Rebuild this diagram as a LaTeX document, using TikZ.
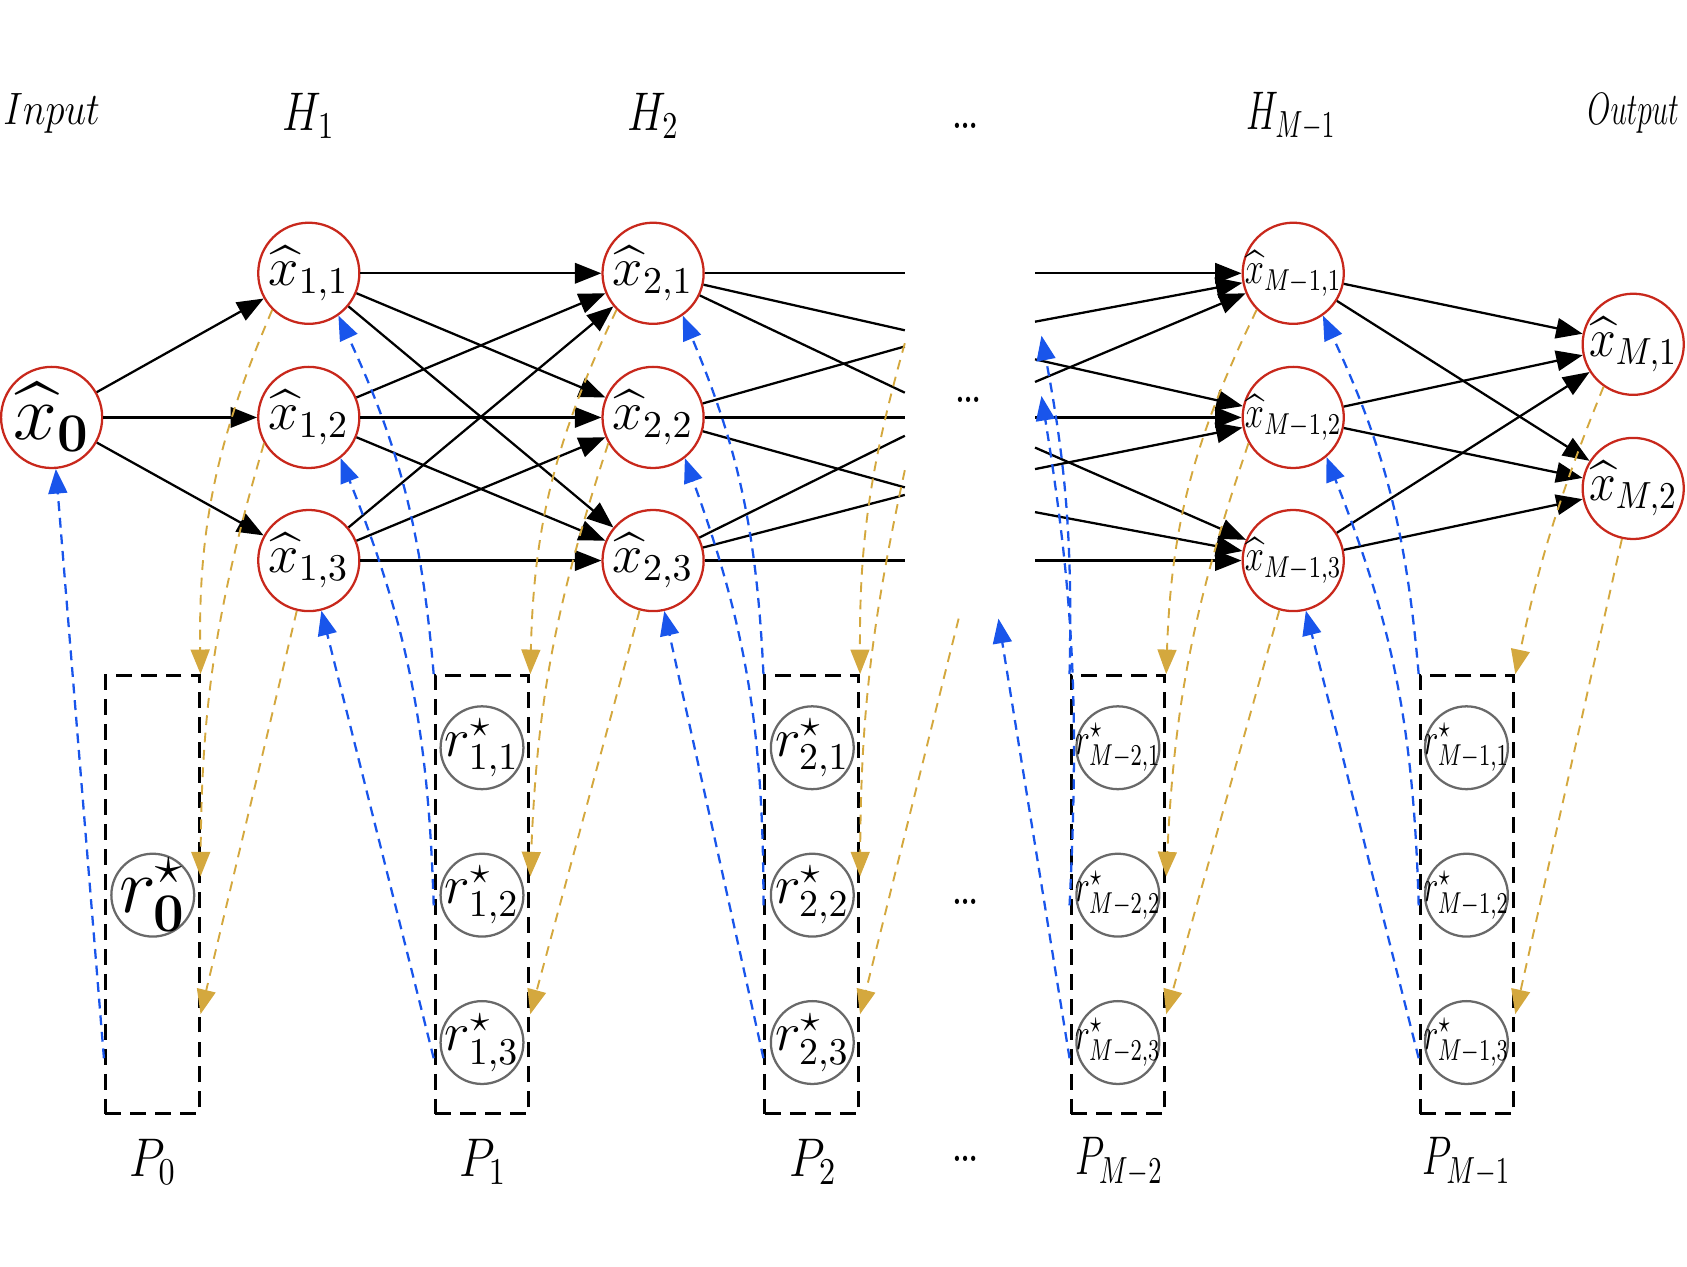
\documentclass[tikz,border=0pt]{standalone}
\usepackage{amsmath}
\usepackage{amssymb}
\usepackage{graphicx}
\usetikzlibrary{arrows.meta}
\definecolor{NodeRed}{RGB}{200,40,28}
\definecolor{BackBlue}{RGB}{25,85,235}
\definecolor{FwdGold}{RGB}{212,168,62}
\definecolor{RefGray}{RGB}{105,105,105}
\newcommand{\sqz}[2]{\scalebox{#1}[1]{#2}}
\newcommand{\ctr}[1]{\makebox[0pt]{#1}}

\begin{document}
\begin{tikzpicture}[
  xnode/.style={circle,draw=NodeRed,semithick,minimum size=0.94cm,inner sep=0pt,font=\Large},
  rnode/.style={circle,draw=RefGray,semithick,minimum size=0.77cm,inner sep=0pt,font=\Large},
  pbox/.style={draw,thick,dash pattern=on 4.2pt off 2.4pt,minimum width=0.87cm,minimum height=4.07cm,inner sep=0pt},
  lbl/.style={font=\Large},
  wire/.style={semithick,-{Triangle[length=7pt,width=5.4pt]}},
  cut/.style={semithick},
  back/.style={BackBlue,semithick,dash pattern=on 2.6pt off 1.8pt,-{Triangle[length=6.5pt,width=5pt]}},
  fwd/.style={FwdGold,line width=0.5pt,dash pattern=on 2.6pt off 2pt,-{Triangle[length=6.5pt,width=5pt]}}
]
\useasboundingbox (0,0) rectangle (15.68,11.77);

% layer titles
\node[lbl,font=\large] (tin) at (0.48,10.72) {\sqz{0.85}{$Input$}};
\node[lbl] (th1) at (2.87,10.69) {\sqz{0.8}{$H_1$}};
\node[lbl] (th2) at (6.07,10.69) {\sqz{0.8}{$H_2$}};
\node[lbl] (tdots) at (8.97,10.60) {\sqz{0.8}{\dots}};
\node[lbl] (thm) at (12.00,10.69) {\sqz{0.66}{$H_{M-1}$}};
\node[lbl,font=\large] (tout) at (15.18,10.72) {\sqz{0.65}{$Output$}};

% estimates
\node[xnode,font=\huge] (x0) at (0.48,7.89) {\ctr{$\widehat{x}_{\mathbf{0}}$}};
\foreach \m/\x in {1/2.87,2/6.07}
  \foreach \j/\y in {1/9.23,2/7.89,3/6.56}
    \node[xnode] (x\m\j) at (\x,\y) {\ctr{$\widehat{x}_{\m,\j}$}};
\foreach \j/\y in {1/9.23,2/7.89,3/6.56}
  \node[xnode,font=\large] (xm\j) at (12.02,\y) {\ctr{\sqz{0.76}{$\widehat{x}_{M-1,\j}$}}};
\node[xnode] (xM1) at (15.18,8.57) {\ctr{\sqz{0.88}{$\widehat{x}_{M,1}$}}};
\node[xnode] (xM2) at (15.18,7.23) {\ctr{\sqz{0.88}{$\widehat{x}_{M,2}$}}};
\node[lbl] (ndots) at (9.00,8.05) {\sqz{0.8}{\dots}};

% forward connections
\foreach \j in {1,2,3} \draw[wire] (x0) -- (x1\j);
\foreach \i in {1,2,3} \foreach \j in {1,2,3} \draw[wire] (x1\i) -- (x2\j);
\foreach \i in {1,2,3} \foreach \j in {1,2} \draw[wire] (xm\i) -- (xM\j);
\foreach \s/\y [count=\k] in {1/9.23,1/8.70,1/8.12,2/8.55,2/7.89,2/7.24,3/7.72,3/7.17,3/6.56} {
  \coordinate (gl\k) at (8.41,\y);
  \draw[cut] (x2\s) -- (gl\k);
}
\foreach \y/\d [count=\k] in {9.23/1,8.78/1,8.22/1,8.43/2,7.89/2,7.41/2,7.61/3,7.01/3,6.56/3} {
  \coordinate (gr\k) at (9.62,\y);
  \draw[wire] (gr\k) -- (xm\d);
}

% projection boxes
\foreach \n/\x in {0/1.415,1/4.48,2/7.545,a/10.39,b/13.635} {
  \node[pbox] (P\n) at (\x,3.455) {};
  \path (P\n.north west) ++(0,-2.15) coordinate (P\n-w2) ++(0,-1.42) coordinate (P\n-w3);
  \path (P\n.north east) ++(0,-1.88) coordinate (P\n-e2) ++(0,-1.28) coordinate (P\n-e3);
}
\node[rnode,font=\huge] (r0) at (1.42,3.45) {\ctr{$r^\star_{\mathbf{0}}$}};
\foreach \m/\x in {1/4.48,2/7.55}
  \foreach \j/\y in {1/4.82,2/3.45,3/2.08}
    \node[rnode] (r\m\j) at (\x,\y) {\ctr{$r^\star_{\m,\j}$}};
\foreach \m/\k/\x in {a/2/10.39,b/1/13.63}
  \foreach \j/\y in {1/4.82,2/3.45,3/2.08}
    \node[rnode,font=\large] (r\m\j) at (\x,\y) {\ctr{\sqz{0.7}{$r^\star_{M-\k,\j}$}}};
\node[lbl] (rdots) at (8.97,3.39) {\sqz{0.8}{\dots}};

\node[lbl] (t0) at (1.42,0.97) {\sqz{0.85}{$P_0$}};
\node[lbl] (t1) at (4.49,0.97) {\sqz{0.85}{$P_1$}};
\node[lbl] (t2) at (7.56,0.97) {\sqz{0.85}{$P_2$}};
\node[lbl] (tpdots) at (8.97,1.00) {\sqz{0.8}{\dots}};
\node[lbl] (ta) at (10.40,0.97) {\sqz{0.7}{$P_{M-2}$}};
\node[lbl] (tb) at (13.63,0.97) {\sqz{0.7}{$P_{M-1}$}};

% back (blue)
\draw[back] (P0-w3) -- (x0);
\foreach \m in {1,2} {
  \draw[back] (P\m.north west) to[bend right=10] (x\m1.305);
  \draw[back] (P\m-w2) to[bend right=10] (x\m2.308);
  \draw[back] (P\m-w3) -- (x\m3);
}
\coordinate (ha1) at (9.68,8.65);
\coordinate (ha2) at (9.68,8.09);
\coordinate (ha3) at (9.28,6.02);
\draw[back] (Pa.north west) to[bend right=6] (ha1);
\draw[back] (Pa-w2) to[bend right=6] (ha2);
\draw[back] (Pa-w3) -- (ha3);
\draw[back] (Pb.north west) to[bend right=10] (xm1.305);
\draw[back] (Pb-w2) to[bend right=10] (xm2.310);
\draw[back] (Pb-w3) -- (xm3);

% forward (gold)
\foreach \m/\p in {1/0,2/1} {
  \draw[fwd] (x\m1.225) to[bend right=12] (P\p.north east);
  \draw[fwd] (x\m2.210) to[bend right=8] (P\p-e2);
  \draw[fwd] (x\m3) -- (P\p-e3);
}
\coordinate (hb1) at (8.41,8.58);
\coordinate (hb2) at (8.41,7.40);
\coordinate (hb3) at (8.91,6.02);
\draw[fwd] (hb1) to[bend right=8] (P2.north east);
\draw[fwd] (hb2) to[bend right=6] (P2-e2);
\draw[fwd] (hb3) -- (P2-e3);
\draw[fwd] (xm1.225) to[bend right=12] (Pa.north east);
\draw[fwd] (xm2.210) to[bend right=8] (Pa-e2);
\draw[fwd] (xm3) -- (Pa-e3);
\draw[fwd] (xM1.235) to[bend right=5] (Pb.north east);
\draw[fwd] (xM2) -- (Pb-e3);
\end{tikzpicture}
\end{document}
